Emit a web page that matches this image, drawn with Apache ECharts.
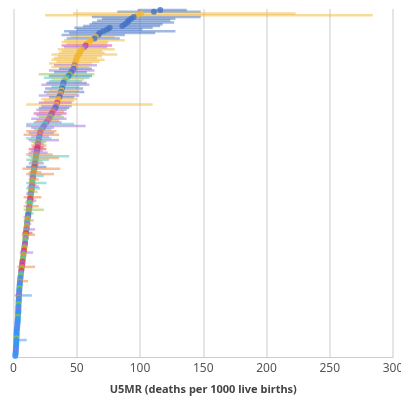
<!DOCTYPE html>
<html>
<head>
<meta charset="utf-8">
<script src="https://cdn.jsdelivr.net/npm/echarts@6/dist/echarts.min.js"></script>
<style>html,body{margin:0;padding:0;background:#fff}#c{width:401px;height:397px}</style>
</head>
<body>
<div id="c"></div>
<script>
// U5MR estimates, sorted from highest (top) to lowest (bottom)
const u5mr = [116,111,101,98,95,93,91,90,88,86,76,74,71,68,67,65,64,61,60,58,57,56,54,53,52.5,51.5,50.5,50,
49.5,49,48.5,48.2,48,47.5,46.5,45.5,44.5,43.5,
42,41,40,39.5,39,38.7,38.4,38,
37.5,37,36.6,36.2,35.6,35,34.5,34,
33.5,33,32,31,30.2,29.5,29,
28,27,26,25,24,23,22,21.3,
21,20.7,20.4,20.1,19.8,19.6,19.4,19.2,19,18.8,18.5,
18.2,18,17.8,17.6,17.4,17.2,17,16.7,16.5,16.2,16,
15.8,15.6,15.4,15.2,15,14.9,14.8,14.6,14.5,
14.3,14.1,13.9,13.7,13.5,13.3,13.2,13,12.8,12.7,12.5,
12.3,12.2,12,11.8,11.6,11.4,11.2,11,10.8,10.7,10.5,
10.3,10.2,10,9.9,9.7,9.6,9.5,9.3,9.2,9,
8.8,8.6,8.4,8.2,8,7.9,7.7,
7.5,7.3,7.1,7,6.8,6.6,
6.4,6.2,6,5.9,5.7,5.5,5.3,5.1,
5,4.9,4.8,4.7,4.6,4.5,
4.4,4.3,4.3,4.2,4.1,4,4,3.9,3.9,3.8,3.8,
3.7,3.6,3.5,3.4,3.3,3.2,3.1,3,2.8,2.7,2.5,
2.5,2.4,2.4,2.3,2.3,2.2,2.2,2.1,2,1.9,1.8,1.7,1.6,1.4];

const lower = [98,82,47,25,62,70,66,62,60,55,48,50,40,44,38,45,42,40,38,42,38,40,35,38,36,30,35,32,
30,34,28,32,30,36,28,32,20,28,
24,30,28,26,22,30,25,28,
24,26,20,28,22,24,20,10,
22,20,18,20,16,18,20,
14,18,16,10,10,14,16,10,
12,8,14,10,12,14,16,14,15,12,14,
12,10,12,14,10,13,12,14,10,7,14,
12,10,12,13,12,13,10,12,11,
10,12,11,10,12,8,11,10,9,11,8,
10,8,10,9,10,8,9,8,9,9,9,
8,8,9,7,6.5,8,8,8,8,7.5,
7,7.5,7,7.4,5,7,6.8,
6.6,6.5,6.3,6,6,3,
5.6,5.5,5.2,5.2,5,4.8,4.6,3,
4.5,4.4,4.3,4.2,4.1,4,
3.9,1,3.8,3.7,3.6,3.5,3.5,3.4,3.4,3.3,3.3,
3.2,3.1,3,2.9,2.8,2.7,2.6,2.5,2.3,2.2,2,
2,1.9,1.9,1.8,1,1.7,1.7,1.6,1.5,1.4,1.3,1.2,1.1,0.9];

const upper = [137,148,223,284,148,128,124,127,118,116,110,102,128,112,88,80,84,88,75,74,78,74,80,70,72,82,70,66,
72,68,62,66,60,62,64,58,64,62,
60,56,54,58,60,52,55,52,
56,50,52,48,50,48,46,110,
46,44,42,40,42,38,40,
42,36,38,48,57,32,30,34,
32,36,28,30,36,26,24,26,24,26,23,
27,31,44,36,28,23,24,20,26,37,19,
22,32,24,18,20,17,26,18,20,
21,17,19,16,16,22,16,18,16,15,20,
15,24,14,16,13,14,13,16,13,14,12,
13,17,11,15,17,11,12,11,10.5,11,
10,9.8,10,9,15.5,9,8.6,
8.5,8.2,8,8,7.7,17,
7.2,7,6.8,6.6,6.4,6.2,6,11.5,
5.5,5.4,5.3,5.2,5.1,5,
4.9,14.5,4.8,4.7,4.6,4.5,4.5,4.4,4.4,4.3,4.3,
4.2,4.1,4,3.9,3.8,3.7,3.6,3.5,3.3,3.2,3,
3,2.9,2.9,2.8,10.5,2.7,2.7,2.6,2.5,2.4,2.3,2.2,2.1,1.9];

// region code per country
const regions = ("BBYYBBBBBBBBBBBYBYYYMPYYYYYY" +
  "YYYPYBPBGBTYTBPTBYBYPBYYMYPBPOMPG" +
  "POPTPPTOPOPTPGPOMRPPOTOTGPOBOTOOTPOGTOPT" +
  "OGPTORPGTOPGOTBPGOTPGOPTROGPGTMPGORPGOTGRPMOGRPTGS" +
  "SOSSSGSSPSOSSSGSSPSSSGSSSSSPSSSSSGSSSSSSPSSS").split("");

const xTicks = [0, 50, 100, 150, 200, 250, 300];
const xTitle = "U5MR (deaths per 1000 live births)";

const palette = {B:'#4472c4', Y:'#f2b533', P:'#9b6fdb', M:'#d3389e', G:'#8cc540',
                 T:'#43c6c0', O:'#f0813a', R:'#e0393e', S:'#3a93f5'};

const ranks = u5mr.map((v, i) => String(i + 1));
const barData = u5mr.map((v, i) => [v, i, lower[i], upper[i], regions[i]]);
const pointData = u5mr.map((v, i) => ({value: [v, i], itemStyle: {color: palette[regions[i]]}}));

const chart = echarts.init(document.getElementById('c'), null, {renderer: 'canvas'});
chart.setOption({
  animation: false,
  backgroundColor: '#fff',
  grid: {left: 13.5, right: 8, top: 9, bottom: 40, containLabel: false, outerBoundsMode: 'none'},
  xAxis: {
    type: 'value', min: xTicks[0], max: xTicks[xTicks.length - 1], interval: 50,
    name: xTitle, nameLocation: 'middle', nameGap: 27,
    nameTextStyle: {fontFamily: 'Noto Sans', fontSize: 11, fontWeight: 'bold', color: '#444'},
    axisLine: {show: true, lineStyle: {color: '#ccc', width: 1}},
    axisTick: {show: false},
    axisLabel: {fontFamily: 'Noto Sans', fontSize: 12, color: '#555', margin: 6},
    splitLine: {show: true, lineStyle: {color: '#dcdcdc', width: 1.5}}
  },
  yAxis: {
    type: 'category', data: ranks, inverse: true,
    axisLine: {show: false}, axisTick: {show: false}, axisLabel: {show: false},
    splitLine: {show: false}
  },
  series: [
    {
      type: 'custom',
      data: barData,
      encode: {x: [2, 3], y: 1},
      renderItem: function (params, api) {
        const y = api.value(1);
        const p1 = api.coord([api.value(2), y]);
        const p2 = api.coord([api.value(3), y]);
        const code = barData[params.dataIndex][4];
        return {
          type: 'line',
          shape: {x1: p1[0], y1: p1[1], x2: p2[0], y2: p2[1]},
          style: {stroke: palette[code], lineWidth: 2.5, opacity: 0.5}
        };
      },
      z: 2
    },
    {
      type: 'scatter',
      data: pointData,
      symbolSize: 6,
      z: 3
    }
  ]
});
</script>
</body>
</html>
